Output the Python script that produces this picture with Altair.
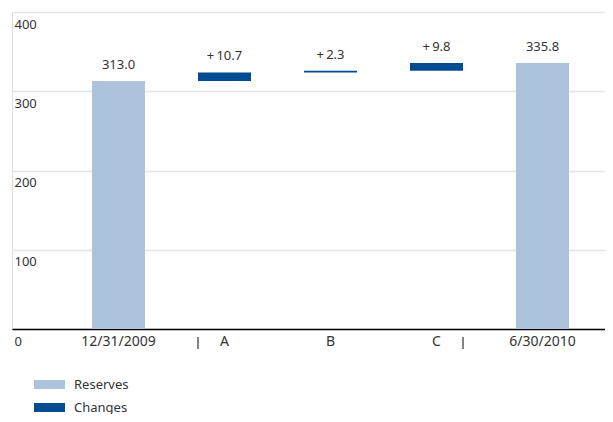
import altair as alt
import pandas as pd

# ---- data ----
categories = ["12/31/2009", "A", "B", "C", "6/30/2010"]
kinds = ["Reserves", "Changes", "Changes", "Changes", "Reserves"]
amounts = [313.0, 10.7, 2.3, 9.8, 335.8]
value_labels = ["313.0", "+\u200910.7", "+\u20092.3", "+\u20099.8", "335.8"]
separator_pos = [0.75, 3.25]
y_ticks = [0, 100, 200, 300, 400]

LIGHT = "#adc3dc"
DARK = "#004c93"
TXT = "#333333"
FONT = "Noto Sans"

rows = []
running = 0.0
for i, (c, k, a, lab) in enumerate(zip(categories, kinds, amounts, value_labels)):
    if k == "Reserves":
        start, end = 0.0, a
        running = a
    else:
        start, end = running, running + a
        running = end
    rows.append({"idx": i, "x0": i - 0.25, "x1": i + 0.25, "cat": c,
                 "kind": k, "start": start, "end": end, "label": lab})
df = pd.DataFrame(rows)
sep_df = pd.DataFrame({"pos": separator_pos})

xscale = alt.Scale(domain=[-1.0047, 4.5896], nice=False, zero=False)
yscale = alt.Scale(domain=[0, 400], nice=False)

base = alt.Chart(df)

bars = base.mark_bar().encode(
    x=alt.X("x0:Q", scale=xscale,
            axis=alt.Axis(domain=True, domainColor="#000000", domainWidth=1.5,
                          labels=False, ticks=False, grid=False, title=None)),
    x2="x1:Q",
    y=alt.Y("start:Q", scale=yscale,
            axis=alt.Axis(values=y_ticks, grid=True, gridColor="#e4e4e4",
                          gridWidth=1.5, domain=False, ticks=False, tickSize=0,
                          labelAlign="left", labelBaseline="top",
                          labelPadding=-2, labelOffset=6, labelFont=FONT,
                          labelFontSize=13, labelColor=TXT, title=None)),
    y2="end:Q",
    color=alt.Color("kind:N",
                    scale=alt.Scale(domain=["Reserves", "Changes"], range=[LIGHT, DARK]),
                    legend=alt.Legend(orient="none", legendX=22, legendY=357,
                                      title=None,
                                      symbolType="M-1,-0.29L1,-0.29L1,0.29L-1,0.29Z",
                                      symbolSize=961, symbolStrokeWidth=0,
                                      symbolOpacity=1,
                                      labelFont=FONT, labelFontSize=13,
                                      labelColor=TXT, labelOffset=9,
                                      rowPadding=-9)),
)

vlabels = base.mark_text(baseline="bottom", dy=-9, font=FONT, fontSize=13,
                         color=TXT).encode(
    x=alt.X("idx:Q", scale=xscale),
    y=alt.Y("end:Q", scale=yscale),
    text="label:N",
)

xlabels = base.mark_text(baseline="top", font=FONT, fontSize=14,
                         color=TXT).encode(
    x=alt.X("idx:Q", scale=xscale),
    y=alt.value(323),
    text="cat:N",
)

seps = alt.Chart(sep_df).mark_rule(color=TXT, strokeWidth=1.2).encode(
    x=alt.X("pos:Q", scale=xscale),
    y=alt.value(325),
    y2=alt.value(337),
)

chart = alt.layer(bars, vlabels, xlabels, seps).properties(
    width=593, height=317,
    padding={"left": 4, "top": 4, "right": 0, "bottom": 85},
    autosize=alt.AutoSizeParams(type="none"),
).configure_view(stroke=None).configure(background="white")

chart.save("out.html", embed_options={"renderer": "svg", "actions": False})
